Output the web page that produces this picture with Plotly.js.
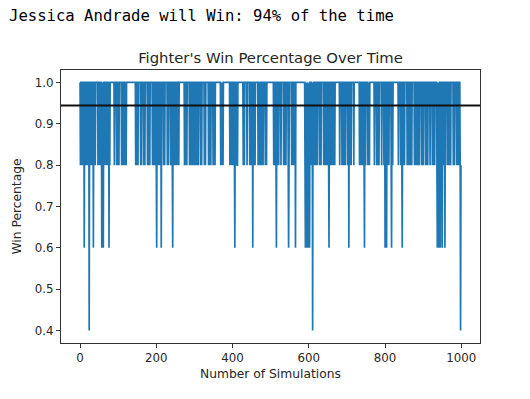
<!DOCTYPE html>
<html><head><meta charset="utf-8">
<script src="https://cdn.plot.ly/plotly-3.0.1.min.js"></script>
<style>html,body{margin:0;padding:0;background:#fff;}#chart{width:530px;height:399px;}</style>
</head><body><div id="chart"></div>
<script>
const headline = "Jessica Andrade will Win: 94% of the time";
const chartTitle = "Fighter's Win Percentage Over Time";
const xLabel = "Number of Simulations";
const yLabel = "Win Percentage";
const xTicks = [0, 200, 400, 600, 800, 1000];
const xTickText = ["0", "200", "400", "600", "800", "1000"];
const yTicks = [0.4, 0.5, 0.6, 0.7, 0.8, 0.9, 1.0];
const yTickText = ["0.4", "0.5", "0.6", "0.7", "0.8", "0.9", "1.0"];
const winPct = [
1,.8,1,1,.8,1,1,1,.8,1, 1,.6,1,.8,1,1,.8,1,1,1, .8,1,1,1,.4,1,.8,1,1,.8, 1,1,.8,1,1,.6,1,.8,1,1, .8,1,1,1,1,1,1,.8,1,1,
.8,1,1,.8,1,1,1,.6,1,.8, 1,.6,1,1,.8,1,1,.8,1,1, .8,1,1,.8,1,1,.6,1,.8,1, 1,1,1,1,1,1,1,1,1,1, .8,1,1,1,1,1,.8,1,1,.8,
1,1,.8,1,1,1,1,1,1,.8, 1,1,.8,1,1,.8,1,1,.8,1, 1,.8,1,1,1,1,1,1,1,1, 1,1,1,1,1,1,1,1,1,1, 1,1,1,1,1,1,.8,1,1,.8,
1,1,.8,1,1,1,1,1,1,.8, 1,.8,1,1,1,1,1,.8,1,1, .8,1,1,1,1,1,1,.8,1,1, .8,1,1,.8,1,1,1,1,1,1, .8,1,1,.8,1,1,.8,1,1,1,
.8,.6,1,1,.8,1,1,.8,1,1, .8,1,1,.6,1,1,1,1,1,.8, 1,1,.8,1,1,1,1,1,1,.8, 1,1,.8,1,1,1,1,1,.8,1, 1,1,.8,.6,1,1,.8,1,1,.8,
1,1,.8,1,1,1,.8,1,1,.8, 1,1,1,1,1,1,1,1,1,1, 1,1,1,1,.8,1,1,.8,1,1, .8,1,1,1,1,1,1,.8,1,1, .8,1,1,.8,1,1,1,.8,1,1,
.8,1,1,.8,1,1,.8,1,1,1, .8,1,1,1,1,1,.8,1,1,.8, 1,1,1,1,1,1,.8,1,1,.8, 1,1,1,1,1,1,1,.8,1,1, .8,1,1,.8,1,1,1,1,1,.8,
1,1,.8,1,.8,1,1,1,1,1, 1,1,1,1,1,1,1,1,1,.8, 1,.8,1,.8,1,.8,1,1,1,1, 1,1,1,1,1,1,1,1,1,1, 1,1,1,.8,1,1,.8,1,1,.8,
1,1,.8,1,1,.8,.6,1,1,.8, 1,1,.8,.8,1,1,1,1,1,1, 1,1,1,1,1,1,1,1,.8,1, 1,.8,1,1,1,1,1,1,.8,1, 1,1,1,1,1,.8,1,1,.8,1,
1,.8,1,.6,1,1,.8,1,1,.8, 1,1,1,1,1,1,1,.8,1,1, .8,1,1,.8,1,1,1,.8,1,1, .8,1,1,1,1,1,.8,1,1,.8, 1,1,1,1,1,1,1,1,1,1,
1,1,1,1,1,1,1,1,.8,1, 1,.8,1,1,.8,.6,1,1,.8,1, 1,.8,1,1,1,1,1,.8,1,1, 1,1,1,1,.8,1,1,.8,1,1, .8,1,1,1,1,1,.8,.6,.8,1,
1,1,1,1,1,.8,1,1,.8,1, .8,1,1,.8,1,.6,1,1,1,1, 1,1,1,1,1,1,1,1,1,1, 1,1,1,1,1,1,1,1,1,1, .8,.6,1,.8,1,.6,.8,1,.8,.6,
1,.8,.6,1,1,.8,1,1,.8,1, .4,1,.8,1,1,.8,1,1,1,.8, 1,1,.8,1,1,1,1,1,.8,1, 1,1,.8,1,1,1,1,1,1,.8, 1,1,.8,1,1,.8,1,1,1,.8,
1,1,.8,.6,1,1,.8,1,1,.8, 1,1,.8,1,1,.8,1,1,.8,1, 1,1,1,1,1,1,1,1,1,1, 1,.8,1,1,1,1,1,.8,1,1, .8,1,1,.8,1,1,.8,1,1,1,
1,1,.8,1,1,.6,1,1,.8,1, 1,.8,1,1,1,1,1,1,.8,1, 1,1,1,1,1,1,1,1,1,1, 1,1,1,.8,1,1,.8,1,1,.8, 1,1,.8,1,1,.8,.6,1,1,.8,
1,1,1,1,1,.8,1,.8,1,.8, 1,1,1,1,1,1,1,1,1,1, 1,1,.8,1,1,1,1,1,.8,1, 1,.8,1,1,.8,1,1,1,1,1, 1,.8,1,1,1,1,1,.8,1,1,
.6,1,1,.8,.6,1,1,.8,1,1, .8,1,1,1,1,1,.8,.6,1,1, .8,1,1,1,1,1,1,1,1,1, 1,1,1,1,1,.8,1,1,1,1, 1,.8,1,1,.8,.6,1,1,.8,1,
1,.8,1,1,1,1,1,1,.8,1, 1,.8,1,1,.8,1,1,.8,1,1, .8,1,1,1,1,1,1,.8,1,1, .8,1,1,.8,1,1,1,.8,1,1, .8,1,1,1,1,1,.8,1,1,1,
.8,1,1,1,1,1,.8,1,1,.8, 1,1,.8,1,1,1,1,1,.8,1, 1,1,1,1,.8,1,1,.8,1,1, .8,1,1,1,1,1,.8,.6,1,.8, 1,.6,.8,1,1,.6,1,.8,1,1,
.6,1,.8,1,1,.8,1,.6,1,1, 1,1,1,.8,1,1,.8,1,1,.8, 1,1,.8,1,1,1,1,1,1,.8, 1,1,.8,1,1,1,1,1,.8,1, 1,.8,1,1,.8,1,1,.8,.4,.8
];
const simIndex = winPct.map((_, i) => i);
const meanWin = winPct.reduce((a, b) => a + b, 0) / winPct.length;

const tickFont = {family: "DejaVu Sans", size: 11.8, color: "#262626"};
const labelFont = {family: "DejaVu Sans", size: 12.3, color: "#262626"};
const data = [{
  type: "scatter", mode: "lines", x: simIndex, y: winPct,
  line: {color: "#1f77b4", width: 1.7, simplify: false},
  hoverinfo: "skip"
}];
const layout = {
  width: 530, height: 399,
  margin: {l: 61, r: 50, t: 70, b: 56, pad: 0},
  paper_bgcolor: "#fff", plot_bgcolor: "#fff",
  showlegend: false,
  title: {text: chartTitle, font: {family: "DejaVu Sans", size: 14.8, color: "#262626"},
          x: 0.5, xref: "paper", xanchor: "center", y: 1 - 58/399, yanchor: "middle"},
  xaxis: {
    range: [-49.95, 1048.95], tickmode: "array", tickvals: xTicks, ticktext: xTickText,
    ticks: "outside", ticklen: 4, tickwidth: 1, tickcolor: "#333",
    showline: true, linecolor: "#333", linewidth: 1, mirror: true,
    showgrid: false, zeroline: false, tickfont: tickFont,
    title: {text: xLabel, font: labelFont, standoff: 5}
  },
  yaxis: {
    range: [0.37, 1.03], tickmode: "array", tickvals: yTicks, ticktext: yTickText,
    ticks: "outside", ticklen: 4, tickwidth: 1, tickcolor: "#333",
    showline: true, linecolor: "#333", linewidth: 1, mirror: true,
    showgrid: false, zeroline: false, tickfont: tickFont,
    title: {text: yLabel, font: labelFont, standoff: 10}
  },
  shapes: [{
    type: "line", xref: "paper", x0: 0, x1: 1, yref: "y", y0: meanWin, y1: meanWin,
    line: {color: "#111", width: 1.9}, layer: "above"
  }],
  annotations: [{
    text: headline, showarrow: false, xref: "paper", yref: "paper",
    x: -54/419, xanchor: "left", y: (342.7 - 16) / 272.7, yanchor: "middle",
    font: {family: "DejaVu Sans Mono", size: 15.6, color: "#000"}
  }]
};
Plotly.newPlot("chart", data, layout, {staticPlot: true, displayModeBar: false});
</script>
</body></html>
